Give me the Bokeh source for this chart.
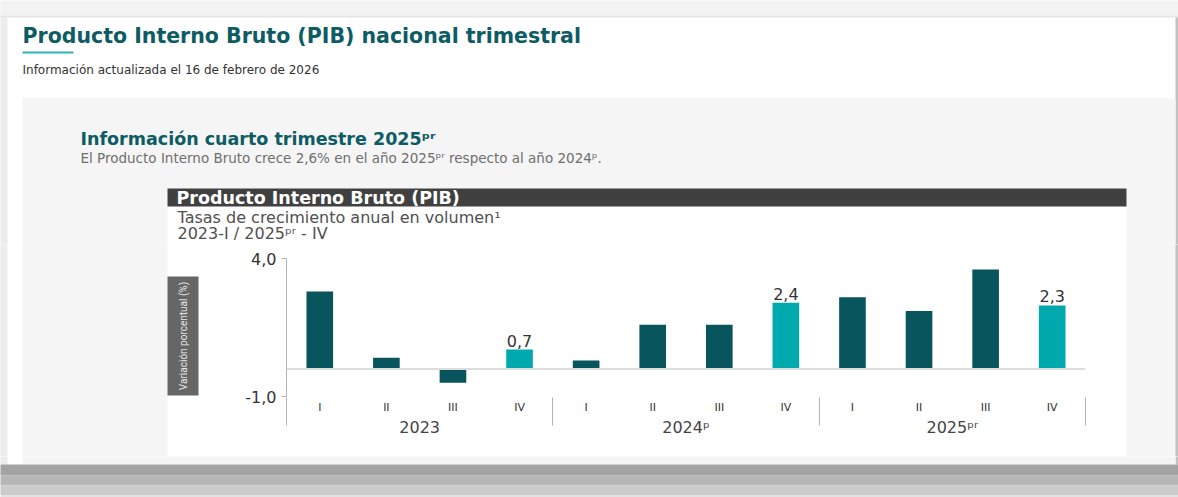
import math
from bokeh.plotting import figure
from bokeh.layouts import column, row
from bokeh.models import Range1d, Span, ColumnDataSource, FixedTicker, LinearAxis, Plot
from bokeh.core.properties import value
from bokeh.embed import file_html
from bokeh.resources import INLINE

# ---------------- data ----------------
years = ["2023", "2024ᵖ", "2025ᵖʳ"]
quarters = ["I", "II", "III", "IV"]
growth = [2.8, 0.4, -0.5, 0.7, 0.3, 1.6, 1.6, 2.4, 2.6, 2.1, 3.6, 2.3]
highlight_quarter = "IV"
y_ticks = [-1, 4]
y_tick_labels = ["-1,0", "4,0"]

page_title = "Producto Interno Bruto (PIB) nacional trimestral"
updated = "Información actualizada el 16 de febrero de 2026"
section_title = "Información cuarto trimestre 2025ᵖʳ"
section_text = "El Producto Interno Bruto crece 2,6% en el año 2025ᵖʳ respecto al año 2024ᵖ."
chart_header = "Producto Interno Bruto (PIB)"
chart_sub1 = "Tasas de crecimiento anual en volumen¹"
chart_sub2 = "2023-I / 2025ᵖʳ - IV"
y_title = "Variación porcentual (%)"

DARK = "#08555e"
LIGHT = "#00a9ae"
TEAL_TXT = "#0d5c63"
GRAY_BG = "#f5f5f5"

# ---------------- derived ----------------
factors = [(y, q) for y in years for q in quarters]
nq = len(quarters)
pos = [i + 0.5 for i in range(len(factors))]
colors = [LIGHT if q == highlight_quarter else DARK for (_, q) in factors]
src = ColumnDataSource(dict(x=pos, top=growth, color=colors))

sel = [i for i, f in enumerate(factors) if f[1] == highlight_quarter]
lsrc = ColumnDataSource(dict(x=[pos[i] for i in sel], y=[growth[i] for i in sel],
                             t=[f"{growth[i]:.1f}".replace(".", ",") for i in sel]))

group_centers = [k * nq + nq / 2 for k in range(len(years))]
group_bounds = [k * nq for k in range(len(years) + 1)]

# page geometry (page pixel coordinates)
X0, X1, Y0, Y1 = 0, 1178, 0, 497
YT = 244            # bottom of top strip
YB = 456            # top of bottom strip
CL, CR = 206, 1126  # chart figure left/right
FL, FR, FT, FB = 286, 1085, 258, 396  # chart frame
OV = 3              # overlap beyond strip edges to avoid seams

NOALIGN = {"frame_align": False} if "frame_align" in Plot.properties() else {}


def page_fig(x0, x1, y0, y1, bg="white"):
    f = figure(width=x1 - x0, height=y1 - y0,
               x_range=Range1d(x0, x1), y_range=Range1d(y1, y0),
               output_backend="svg", toolbar_location=None, tools="",
               x_axis_location=None, y_axis_location=None, min_border=0,
               outline_line_color=None, background_fill_color=bg,
               border_fill_color=bg, **NOALIGN)
    f.grid.visible = False
    return f


def rect(f, l, r, t, b, color):
    f.quad(left=[l], right=[r], top=[t], bottom=[b], fill_color=color, line_color=None)


def txt(f, x, y, s, size, color, font="DejaVu Sans", style="normal",
        align="left", baseline="middle", angle=0.0):
    f.text(x=[x], y=[y], text=[s], text_font=value(font), text_font_size=f"{size}px",
           text_color=color, text_font_style=style, text_align=align,
           text_baseline=baseline, angle=angle)


def frame_edges(f, y0, y1):
    rect(f, X0 - OV, 7, y0, min(y1, 464), "#ececec")
    rect(f, 1175, X1 + OV, max(y0, 17), min(y1, 464), "#c2c2c2")


# ---- top strip ----
top = page_fig(X0, X1, Y0, YT)
rect(top, X0 - OV, X1 + OV, Y0 - OV, 15, "#f2f2f2")
rect(top, X0 - OV, X1 + OV, 15, 17, "#e4e4e4")
frame_edges(top, 17, YT + OV)
rect(top, 22, 1175, 98, YT + OV, GRAY_BG)
rect(top, 167, 1126, 188, YT + OV, "#ffffff")
rect(top, 167, 1126, 188, 206, "#404040")
rect(top, 22, 73, 51, 53, "#2bb6b6")
txt(top, 22, 35.5, page_title, 20.5, TEAL_TXT, style="bold", baseline="alphabetic")
txt(top, 22, 69, updated, 12, "#333333")
txt(top, 80, 138.5, section_title, 17.5, TEAL_TXT, style="bold", baseline="alphabetic")
txt(top, 80, 157, section_text, 13.5, "#6f6f6f")
txt(top, 176, 197, chart_header, 17.5, "#ffffff", style="bold")
txt(top, 177, 216.5, chart_sub1, 16, "#505050")
txt(top, 177, 232.5, chart_sub2, 16, "#505050")

# ---- left strip ----
left = page_fig(X0, CL, YT, YB, bg=GRAY_BG)
frame_edges(left, YT - OV, YB + OV)
rect(left, 7, 22, YT - OV, YB + OV, "#ffffff")
rect(left, 22, 167, YT - OV, YB + OV, GRAY_BG)
rect(left, 167, CL + OV, YT - OV, YB + OV, "#ffffff")
rect(left, 167, 198, 276, 395, "#666666")
txt(left, 182.5, 335.5, y_title, 10, "#e6e6e6", font="Roboto",
    align="center", angle=math.pi / 2)

# ---- right strip ----
right = page_fig(CR, X1, YT, YB, bg=GRAY_BG)
rect(right, CR - OV, 1175, YT - OV, YB + OV, GRAY_BG)
frame_edges(right, YT - OV, YB + OV)

# ---- bottom strip ----
bottom = page_fig(X0, X1, YB, Y1)
frame_edges(bottom, YB - OV, Y1)
rect(bottom, 22, 1175, YB - OV, 464, GRAY_BG)
rect(bottom, 167, 1126, YB - OV, YB, "#ffffff")
rect(bottom, X0 - OV, X1 + OV, 464, 475, "#a3a3a3")
rect(bottom, X0 - OV, X1 + OV, 475, 485, "#b6b6b6")
rect(bottom, X0 - OV, X1 + OV, 485, 495, "#cbcbcb")
rect(bottom, X0 - OV, X1 + OV, 495, Y1 + OV, "#e2e2e2")

# ---- chart ----
p = figure(width=CR - CL, height=YB - YT,
           x_range=Range1d(0, len(factors)), y_range=Range1d(-1, 4),
           output_backend="svg", toolbar_location=None, tools="",
           min_border_left=FL - CL, min_border_right=CR - FR,
           min_border_top=FT - YT, min_border_bottom=YB - FB,
           outline_line_color=None,
           background_fill_color="white", border_fill_color="white", **NOALIGN)
p.grid.visible = False

p.add_layout(Span(location=0, dimension="width", line_color="#dddddd", line_width=2))
p.vbar(x="x", top="top", width=0.4, fill_color="color", line_color=None, source=src)
p.text(x="x", y="y", text="t", source=lsrc, text_align="center", text_baseline="bottom",
       y_offset=-3, text_font=value("DejaVu Sans"), text_font_size="16px", text_color="#333333")

ya = p.yaxis[0]
ya.ticker = FixedTicker(ticks=y_ticks, minor_ticks=[])
ya.major_label_overrides = {t: s for t, s in zip(y_ticks, y_tick_labels)}
ya.axis_line_color = "#b3b3b3"
ya.major_tick_line_color = "#b3b3b3"
ya.major_tick_out = 5
ya.major_tick_in = 0
ya.major_label_standoff = 5
ya.major_label_text_font = "DejaVu Sans"
ya.major_label_text_font_size = "16px"
ya.major_label_text_color = "#333333"

# quarter labels
xa = p.xaxis[0]
xa.ticker = FixedTicker(ticks=pos, minor_ticks=[])
xa.major_label_overrides = {x: q for x, (_, q) in zip(pos, factors)}
xa.axis_line_color = None
xa.major_tick_line_color = None
xa.minor_tick_line_color = None
xa.major_tick_out = 0
xa.major_tick_in = 0
xa.major_label_standoff = 4
xa.major_label_text_font = "DejaVu Sans"
xa.major_label_text_font_size = "11px"
xa.major_label_text_color = "#333333"

# year labels; its minor ticks draw the group separators
ax_year = LinearAxis(ticker=FixedTicker(ticks=group_centers, minor_ticks=group_bounds),
                     major_label_overrides={c: y for c, y in zip(group_centers, years)},
                     axis_line_color=None, major_tick_line_color=None,
                     minor_tick_line_color="#b3b3b3", minor_tick_in=19, minor_tick_out=9,
                     major_tick_out=0, major_tick_in=0,
                     major_label_standoff=-8, major_label_text_font="DejaVu Sans",
                     major_label_text_font_size="16px", major_label_text_color="#444444")
p.add_layout(ax_year, "below")

layout = column(top, row(left, p, right), bottom)
open("out.html", "w").write(file_html(layout, INLINE))
